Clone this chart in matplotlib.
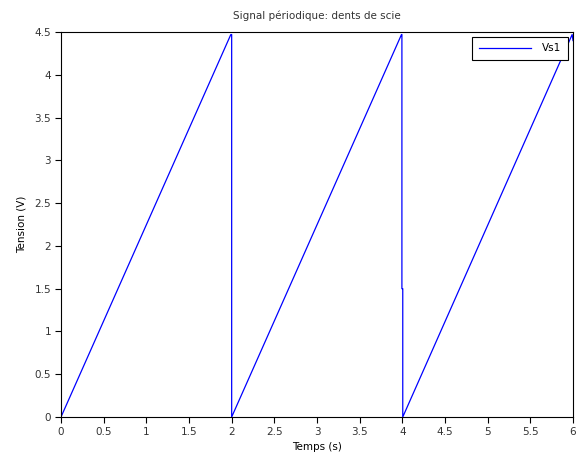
import matplotlib
matplotlib.use("Agg")
import matplotlib.pyplot as plt

# polyline vertices of the sawtooth
t = [0.0, 1.99, 2.0, 2.0, 3.99, 3.995, 3.995, 4.005, 4.005, 5.99, 6.0]
vs1 = [0.0, 4.47, 4.47, 0.0, 4.47, 4.47, 1.5, 1.5, 0.0, 4.47, 4.4]

xticks = [0, 0.5, 1, 1.5, 2, 2.5, 3, 3.5, 4, 4.5, 5, 5.5, 6]
yticks = [0, 0.5, 1, 1.5, 2, 2.5, 3, 3.5, 4, 4.5]

plt.rcParams['font.family'] = ['DejaVu Sans']
fig = plt.figure(figsize=(5.81, 4.59), dpi=100)
ax = fig.add_axes([61/581, 42/459, 512/581, 385/459])
ax.plot(t, vs1, color='#0000ff', lw=0.9, label='Vs1')
ax.set_xlim(0, 6)
ax.set_ylim(0, 4.5)
ax.set_xticks(xticks)
ax.set_xticklabels([f'{v:g}' for v in xticks])
ax.set_yticks(yticks)
ax.set_yticklabels([f'{v:g}' for v in yticks])
ax.tick_params(direction='out', length=4, width=0.8, labelsize=7.5, colors='black',
               labelcolor='#333333', pad=3)
for s in ax.spines.values():
    s.set_linewidth(0.8)
ax.set_title('Signal périodique: dents de scie', fontsize=7.5, pad=9, color='#333333')
ax.set_xlabel('Temps (s)', fontsize=7.5, labelpad=4)
ax.set_ylabel('Tension (V)', fontsize=7.5, labelpad=6)
leg = ax.legend(loc='upper right', fontsize=7.5, fancybox=False, framealpha=1,
                edgecolor='black', borderaxespad=0.5, handlelength=5.0,
                handletextpad=1.1, borderpad=0.6)
leg.get_frame().set_linewidth(0.8)
fig.savefig('out.png', dpi=100)
